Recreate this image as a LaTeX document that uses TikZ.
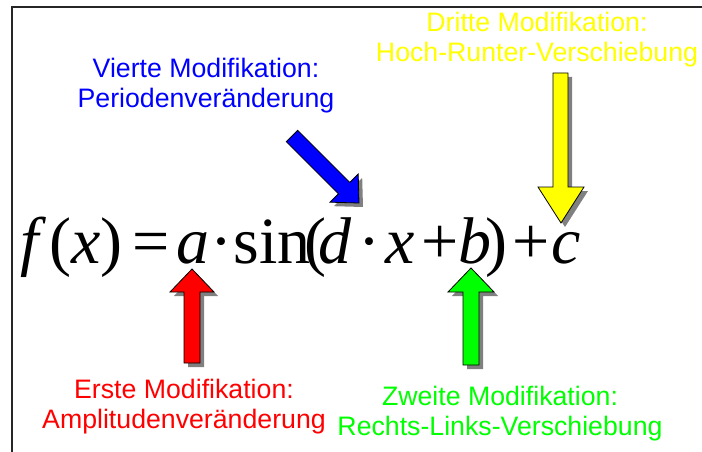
\documentclass[tikz,border=0pt]{standalone}
\usepackage{fontspec}
\setmainfont{Liberation Sans}
\newfontfamily\tms{Liberation Serif}
\definecolor{cred}{RGB}{255,0,0}
\definecolor{cgreen}{RGB}{0,255,0}
\definecolor{cblue}{RGB}{0,0,255}
\definecolor{cyellow}{RGB}{255,255,0}
\definecolor{cshadow}{RGB}{128,128,128}
\begin{document}
\begin{tikzpicture}[x=1pt,y=-1pt,
  lbl/.style={align=center,inner sep=0pt,font=\fontsize{26.7}{30}\selectfont},
  glyph/.style={anchor=base,inner sep=0pt,font=\tms\fontsize{66}{66}\selectfont},
  barrow/.style={draw=black,line width=0.8pt,line join=miter},
  bshadow/.style={fill=cshadow,draw=none}]
\useasboundingbox (0,0) rectangle (702,452);
\fill[white] (0,0) rectangle (702,452);
\draw[line width=1.2pt,black!85] (702,7) -- (12,7) -- (12,452);

% labels
\node[lbl,text=cblue] (l4) at (206,86) {Vierte Modifikation:\\Periodenveränderung};
\node[lbl,text=cyellow] (l3) at (537,40) {Dritte Modifikation:\\Hoch-Runter-Verschiebung};
\node[lbl,text=cred] (l1) at (184,406.5) {Erste Modifikation:\\Amplitudenveränderung};
\node[lbl,text=cgreen] (l2) at (500,413.5) {Zweite Modifikation:\\Rechts-Links-Verschiebung};

% formula
\node[glyph] (f) at (30,263) {\itshape f};
\node[glyph] (p1) at (60,263) {(};
\node[glyph] (x1) at (86,263) {\itshape x};
\node[glyph] (p2) at (111,263) {)};
\node[glyph] (eq) at (151,263) {=};
\node[glyph] (a) at (193,263) {\itshape a};
\node[glyph] (d1) at (221,263) {·};
\node[glyph] (sin) at (272,263) {sin};
\node[glyph] (p3) at (315,263) {(};
\node[glyph] (d) at (335,263) {\itshape d};
\node[glyph] (d2) at (369,263) {·};
\node[glyph] (x2) at (400,263) {\itshape x};
\node[glyph] (pl1) at (440,263) {+};
\node[glyph] (b) at (475,263) {\itshape b};
\node[glyph] (p4) at (496,263) {)};
\node[glyph] (pl2) at (531,263) {+};
\node[glyph] (c) at (566,263) {\itshape c};

% red arrow (up)
\fill[bshadow,shift={(4,4)}] (184,363) -- (184,292) -- (170,292) -- (192,269) -- (214,292) -- (200,292) -- (200,363) -- cycle;
\filldraw[barrow,fill=cred] (184,363) -- (184,292) -- (170,292) -- (192,269) -- (214,292) -- (200,292) -- (200,363) -- cycle;
% green arrow (up)
\fill[bshadow,shift={(4,4)}] (463,365) -- (463,292) -- (448,292) -- (471,268) -- (494,292) -- (479,292) -- (479,365) -- cycle;
\filldraw[barrow,fill=cgreen] (463,365) -- (463,292) -- (448,292) -- (471,268) -- (494,292) -- (479,292) -- (479,365) -- cycle;
% yellow arrow (down)
\fill[bshadow,shift={(4,4)}] (553,73) -- (553,187) -- (538,187) -- (561,223) -- (584,187) -- (568,187) -- (568,73) -- cycle;
\filldraw[barrow,fill=cyellow] (553,73) -- (553,187) -- (538,187) -- (561,223) -- (584,187) -- (568,187) -- (568,73) -- cycle;
% blue arrow (diagonal)
\fill[bshadow,shift={(4,4)}] (297.7,130.3) -- (349.8,182.4) -- (358.2,174) -- (359,203) -- (330,202.2) -- (338.4,193.8) -- (286.3,141.7) -- cycle;
\filldraw[barrow,fill=cblue] (297.7,130.3) -- (349.8,182.4) -- (358.2,174) -- (359,203) -- (330,202.2) -- (338.4,193.8) -- (286.3,141.7) -- cycle;
\end{tikzpicture}
\end{document}
